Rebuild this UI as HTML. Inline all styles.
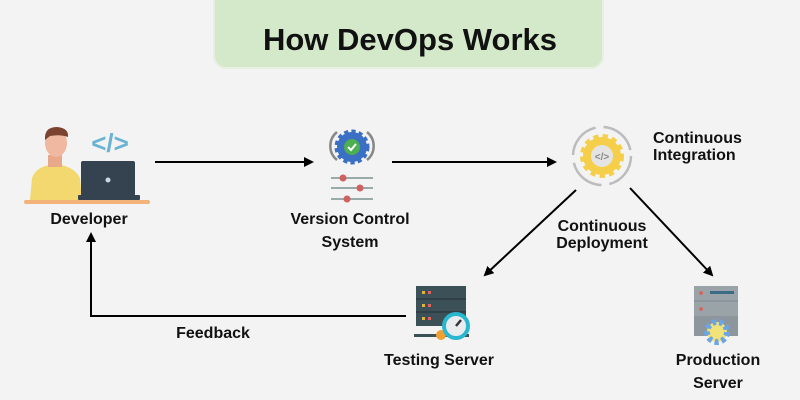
<!DOCTYPE html>
<html><head><meta charset="utf-8"><style>
html,body{margin:0;padding:0;background:#f3f3f3;}
svg{display:block;}
text{font-family:"Liberation Sans",sans-serif;font-weight:bold;fill:#111;}
</style></head><body>
<svg width="800" height="400" viewBox="0 0 800 400" xmlns="http://www.w3.org/2000/svg">
<defs>
<marker id="ah" markerWidth="10" markerHeight="10" refX="8" refY="5" orient="auto" markerUnits="userSpaceOnUse">
<path d="M0,0 L10,5 L0,10 z" fill="#000"/></marker>
</defs>
<rect width="800" height="400" fill="#f3f3f3"/>
<rect x="214" y="-10" width="389" height="78" rx="12" fill="#d3e9c9" stroke="#e6efe0" stroke-width="2"/>
<text x="410" y="50" font-size="31" text-anchor="middle">How DevOps Works</text>

<!-- Developer icon -->
<rect x="24" y="200" width="126" height="4" rx="2" fill="#f2b27a"/>
<path d="M30,200 L32,178 Q36,166 55,164 Q74,166 80,178 L82,200 z" fill="#f3d870"/>
<rect x="48" y="155" width="14" height="12" fill="#e8a88a"/>
<ellipse cx="56" cy="143" rx="11" ry="14" fill="#f0b8a0"/>
<path d="M45,140 Q44,127 57,127 Q69,128 68,137 Q60,134 50,136 z" fill="#7b4330"/>
<rect x="81" y="161" width="54" height="35" rx="2" fill="#34434f"/>
<rect x="78" y="195" width="62" height="5" rx="1" fill="#34434f"/>
<circle cx="108" cy="180" r="2.5" fill="#c8d8e4"/>
<text x="110" y="152" font-size="26" fill="#6bb3d3" style="fill:#6bb3d3" text-anchor="middle">&lt;/&gt;</text>

<!-- VCS icon -->
<path d="M337,132 A18,18 0 0 0 337,160" fill="none" stroke="#888" stroke-width="2.5"/>
<path d="M367,132 A18,18 0 0 1 367,160" fill="none" stroke="#888" stroke-width="2.5"/>
<circle cx="352" cy="147" r="15" fill="#3a6fc4" stroke="#3a6fc4" stroke-width="5" stroke-dasharray="4 3"/>
<circle cx="352" cy="147" r="8" fill="#4caf50"/>
<path d="M348,147 L351,150 L356,144" fill="none" stroke="#fff" stroke-width="2"/>
<g stroke="#9aa" stroke-width="2"><line x1="331" y1="178" x2="373" y2="178"/><line x1="331" y1="188" x2="373" y2="188"/><line x1="331" y1="199" x2="373" y2="199"/></g>
<circle cx="343" cy="178" r="3.5" fill="#d06060"/><circle cx="360" cy="188" r="3.5" fill="#d06060"/><circle cx="347" cy="199" r="3.5" fill="#d06060"/>

<!-- CI icon -->
<circle cx="602" cy="156" r="29" fill="none" stroke="#bcbcbc" stroke-width="2.5" stroke-dasharray="38 8"/>
<circle cx="602" cy="156" r="19" fill="#f6cf4a" stroke="#f6cf4a" stroke-width="6" stroke-dasharray="5 4"/>
<circle cx="602" cy="156" r="11" fill="#e4e4e4"/>
<text x="602" y="160" font-size="10" text-anchor="middle" style="fill:#888">&lt;/&gt;</text>

<!-- Testing server -->
<rect x="416" y="286" width="50" height="40" fill="#3c5058"/>
<line x1="416" y1="299" x2="466" y2="299" stroke="#2c3a40" stroke-width="1.5"/>
<line x1="416" y1="312" x2="466" y2="312" stroke="#2c3a40" stroke-width="1.5"/>
<g fill="#e3b040"><rect x="422" y="291" width="3" height="3"/><rect x="422" y="304" width="3" height="3"/><rect x="422" y="317" width="3" height="3"/></g>
<g fill="#e06060"><rect x="428" y="291" width="3" height="3"/><rect x="428" y="304" width="3" height="3"/><rect x="428" y="317" width="3" height="3"/></g>
<rect x="414" y="334" width="55" height="3" fill="#3c5058"/>
<circle cx="441" cy="335" r="5" fill="#f0a030"/>
<circle cx="456" cy="326" r="12" fill="#e9ecee" stroke="#29b7cf" stroke-width="4"/>
<line x1="456" y1="326" x2="461" y2="320" stroke="#333" stroke-width="2.5"/>

<!-- Production server -->
<rect x="694" y="286" width="44" height="50" fill="#8c969c"/>
<rect x="694" y="286" width="44" height="14" fill="#9aa3a8"/>
<rect x="694" y="302" width="44" height="14" fill="#9aa3a8"/>
<rect x="710" y="291" width="24" height="3" fill="#3c6b85"/>
<circle cx="701" cy="293" r="2" fill="#d06868"/><circle cx="701" cy="309" r="2" fill="#d06868"/>
<circle cx="717" cy="332" r="10" fill="#f2e27a" stroke="#6aa5e8" stroke-width="6" stroke-dasharray="4 3"/>

<!-- Connectors -->
<g stroke="#000" stroke-width="2" fill="none">
<line x1="155" y1="162" x2="312" y2="162" marker-end="url(#ah)"/>
<line x1="392" y1="162" x2="555" y2="162" marker-end="url(#ah)"/>
<line x1="576" y1="190" x2="485" y2="275" marker-end="url(#ah)"/>
<line x1="630" y1="188" x2="712" y2="275" marker-end="url(#ah)"/>
<polyline points="406,316 91,316 91,234" marker-end="url(#ah)"/>
</g>

<!-- Labels -->
<g font-size="16">
<text x="89" y="224" text-anchor="middle">Developer</text>
<text x="350" y="224" text-anchor="middle">Version Control</text>
<text x="350" y="247" text-anchor="middle">System</text>
<text x="653" y="143">Continuous</text>
<text x="653" y="160">Integration</text>
<text x="602" y="231" text-anchor="middle">Continuous</text>
<text x="602" y="248" text-anchor="middle">Deployment</text>
<text x="439" y="365" text-anchor="middle">Testing Server</text>
<text x="718" y="365" text-anchor="middle">Production</text>
<text x="718" y="388" text-anchor="middle">Server</text>
<text x="213" y="338" text-anchor="middle">Feedback</text>
</g>
</svg>
</body></html>
